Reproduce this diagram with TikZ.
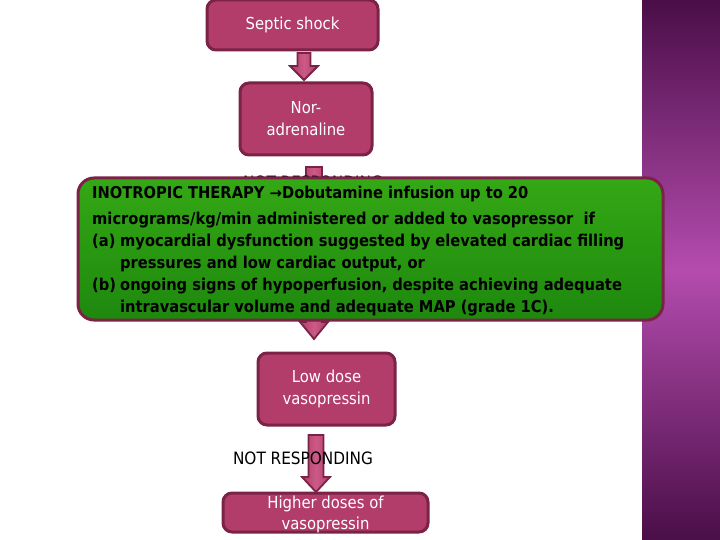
\documentclass[tikz,border=0pt]{standalone}
\usepackage{fontspec}
\setmainfont{DejaVu Sans Condensed}
\newfontfamily\arrowfont{DejaVu Sans}
\usetikzlibrary{calc}
\definecolor{rasp}{HTML}{B23C6A}
\definecolor{raspdark}{HTML}{7A2346}
\definecolor{raspl}{HTML}{CC5A86}
\definecolor{grtop}{HTML}{34A815}
\definecolor{grbot}{HTML}{1E880E}
\definecolor{purpd}{HTML}{4A0E48}
\definecolor{purpm}{HTML}{B44CAE}
\newcommand\blkarrow[7]{%
  \path[arrowst] (#2-#5/2,#3) -- (#2+#5/2,#3) -- (#2+#5/2,#4-#7) -- (#2+#6/2,#4-#7) -- (#2,#4) -- (#2-#6/2,#4-#7) -- (#2-#5/2,#4-#7) -- cycle;
  \coordinate (#1) at (#2,#4);}
\begin{document}
\begin{tikzpicture}[x=1pt,y=-1pt,
  box/.style={rounded corners=9pt, fill=rasp, draw=raspdark, line width=3pt, text=white,
    font=\fontsize{16.5}{22}\selectfont, align=center, inner sep=0pt},
  arrowst/.style={draw=raspdark, line width=1.8pt, left color=rasp, right color=rasp, middle color=raspl, line join=miter},
  nrtext/.style={font=\fontsize{17}{20}\selectfont, text=black, inner sep=0pt},
  greenbox/.style={rounded corners=16pt, draw=raspdark, line width=3pt, top color=grtop, bottom color=grbot, inner sep=0pt}]
\useasboundingbox (0,0) rectangle (720,540);
\fill[white] (0,0) rectangle (720,540);
\shade[top color=purpd, bottom color=purpd, middle color=purpm] (642,0) rectangle (720,540);

\node[box, minimum width=171pt, minimum height=50pt] (septic) at (292.5,25) {Septic shock};
\blkarrow{a1}{304}{53}{80}{13}{28}{14}
\node[box, minimum width=132pt, minimum height=72pt] (nor) at (306,119) {Nor-\\adrenaline};

\blkarrow{a2}{314}{167}{339}{16}{28}{17}
\node[nrtext] (nr1) at (313,182) {NOT RESPONDING};

\node[greenbox, minimum width=585pt, minimum height=142pt] (ino) at (370.5,249) {};
\node[anchor=north west, inner sep=0pt, align=left, font=\bfseries\fontsize{16.3}{22}\selectfont, text=black] (inotext) at (92,185.5)
{INOTROPIC THERAPY {\arrowfont\fontsize{15}{22}\selectfont →}Dobutamine infusion up to 20\\[4pt]
micrograms/kg/min administered or added to vasopressor~ if\\
\makebox[28pt][l]{(a)}myocardial dysfunction suggested by elevated cardiac filling\\
\hspace*{28pt}pressures and low cardiac output, or\\
\makebox[28pt][l]{(b)}ongoing signs of hypoperfusion, despite achieving adequate\\
\hspace*{28pt}intravascular volume and adequate MAP (grade 1C).};

\node[box, minimum width=137pt, minimum height=72pt] (low) at (326.5,389) {Low dose\\vasopressin};
\blkarrow{a3}{316}{435}{492}{15}{28}{15}
\node[nrtext] (nr2) at (303,458) {NOT RESPONDING};

\node[box, minimum width=205pt, minimum height=39pt] (high) at (325.5,512.5) {};
\node[font=\fontsize{16.5}{21}\selectfont, text=white, align=center, inner sep=0pt] (hightext) at (325.5,514) {Higher doses of\\vasopressin};
\end{tikzpicture}
\end{document}
